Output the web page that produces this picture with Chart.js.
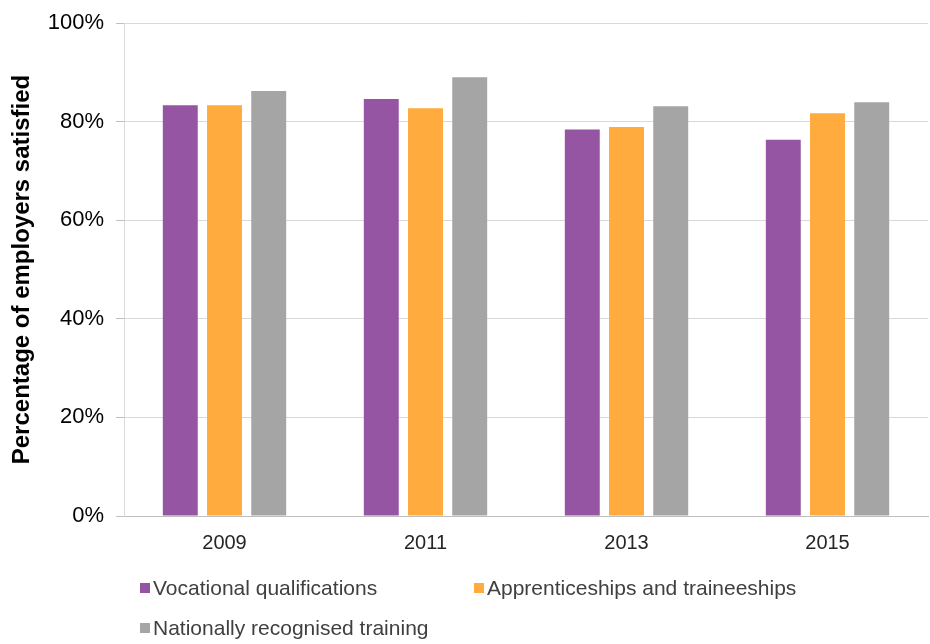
<!DOCTYPE html>
<html>
<head>
<meta charset="utf-8">
<script src="https://cdn.jsdelivr.net/npm/chart.js@4"></script>
<style>
  html, body { margin: 0; padding: 0; background: #fff; }
  #wrap { position: relative; width: 930px; height: 644px; }
  #legend { position: absolute; left: 140px; top: 576px; width: 760px;
    font-family: "Liberation Sans", Arial, sans-serif; font-size: 21px; color: #404040; }
  #legend .item { position: absolute; white-space: nowrap; }
  #legend .box { display: inline-block; width: 10px; height: 10px; margin-right: 3px; vertical-align: 2px; }
</style>
</head>
<body>
<div id="wrap">
  <canvas id="chart" width="930" height="644"></canvas>
  <div id="legend"></div>
</div>
<script>
const years = ['2009', '2011', '2013', '2015'];
const vocational = [83.3, 84.6, 78.4, 76.3];
const apprenticeships = [83.3, 82.7, 78.9, 81.7];
const nationally = [86.2, 89.0, 83.1, 83.9];
const seriesNames = ['Vocational qualifications', 'Apprenticeships and traineeships', 'Nationally recognised training'];
const seriesColors = ['#9655a3', '#ffab3d', '#a5a5a5'];
const yTicks = [0, 20, 40, 60, 80, 100];

Chart.defaults.font.family = '"Liberation Sans", Arial, sans-serif';
Chart.defaults.color = '#000';

const seriesData = [vocational, apprenticeships, nationally];
const chart = new Chart(document.getElementById('chart'), {
    type: 'bar',
    data: {
        labels: years,
        datasets: seriesData.map((d, i) => ({
            label: seriesNames[i],
            data: d,
            backgroundColor: seriesColors[i],
            borderWidth: 0,
            categoryPercentage: 0.66,
            barPercentage: 0.79
        }))
    },
    options: {
        responsive: false,
        animation: false,
        layout: { padding: { top: 8, right: 2, left: 0, bottom: 0 } },
        plugins: { legend: { display: false }, tooltip: { enabled: false } },
        scales: {
            x: {
                grid: { display: false },
                border: { color: '#bfbfbf', width: 1 },
                ticks: { color: '#262626', font: { size: 20 }, padding: 7 },
                afterFit: s => { s.height = 128; }
            },
            y: {
                min: 0,
                max: 100,
                afterBuildTicks: s => { s.ticks = yTicks.map(v => ({ value: v })); },
                grid: { color: '#d9d9d9', tickLength: 8, tickColor: '#bfbfbf' },
                border: { color: '#d9d9d9', width: 1 },
                ticks: { callback: v => v + '%', font: { size: 22, lineHeight: 1 }, color: '#000', padding: 12 },
                title: {
                    display: true,
                    text: 'Percentage of employers satisfied',
                    font: { size: 24, weight: 'bold' },
                    color: '#000',
                    padding: { top: 8, bottom: 0 }
                },
                afterFit: s => { s.width = 124; }
            }
        }
    }
});

// legend, two items per row like the original
const legendPos = [[0, 0], [334, 0], [0, 40]];
const legend = document.getElementById('legend');
seriesNames.forEach((name, i) => {
    const el = document.createElement('div');
    el.className = 'item';
    el.style.left = legendPos[i][0] + 'px';
    el.style.top = legendPos[i][1] + 'px';
    el.innerHTML = '<span class="box" style="background:' + seriesColors[i] + '"></span>' + name;
    legend.appendChild(el);
});
</script>
</body>
</html>
